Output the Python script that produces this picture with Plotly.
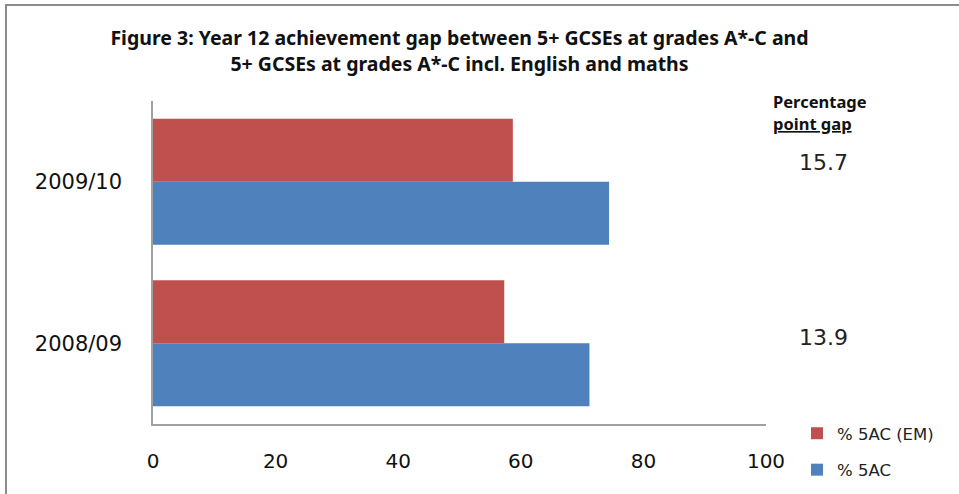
import plotly.graph_objects as go

categories = ["2008/09", "2009/10"]
pct_5ac = [71.2, 74.4]
pct_5ac_em = [57.3, 58.7]
gaps = ["13.9", "15.7"]
gap_shifts = [6, 19]
x_ticks = [0, 20, 40, 60, 80, 100]

BLUE = "#4F81BD"
RED = "#C0504D"
FONT = "DejaVu Sans"

L, R, T, B = 153, 193, 101, 70
W, H = 959, 494
PW, PH = W - L - R, H - T - B


def px_x(x):
    return (x - L) / PW


def px_y(y):
    return (H - B - y) / PH


fig = go.Figure()
fig.add_trace(go.Bar(y=categories, x=pct_5ac, orientation="h", name="% 5AC",
                     legendgroup="blue", legendrank=2,
                     marker=dict(color=BLUE, line=dict(width=0))))
fig.add_trace(go.Bar(y=categories, x=pct_5ac_em, orientation="h", name="% 5AC (EM)",
                     legendgroup="red", legendrank=1,
                     marker=dict(color=RED, line=dict(width=0))))

fig.update_layout(
    width=W, height=H,
    margin=dict(l=L, r=R, t=T, b=B, autoexpand=False),
    paper_bgcolor="white", plot_bgcolor="white",
    barmode="group", bargap=0.22, bargroupgap=0,
    showlegend=True,
    legend=dict(traceorder="grouped", x=px_x(797), xanchor="left",
                y=px_y(416), yanchor="top",
                font=dict(family=FONT, size=16.5, color="#222"),
                itemwidth=30, tracegroupgap=12, bgcolor="rgba(0,0,0,0)"),
    title=dict(
        text="<b>Figure 3: Year 12 achievement gap between 5+ GCSEs at grades A*-C and<br>5+ GCSEs at grades A*-C incl. English and maths</b>",
        x=0.5, xanchor="center", xref="paper", y=0.908, yanchor="top",
        font=dict(family="Noto Sans", size=19.5, color="#111"),
    ),
    xaxis=dict(range=[0, 100], tickvals=x_ticks, showgrid=False, zeroline=False,
               showline=True, linecolor="#A0A0A0", linewidth=1.5,
               ticks="", ticklabelstandoff=18,
               tickfont=dict(family=FONT, size=20, color="#111"), fixedrange=True),
    yaxis=dict(showgrid=False, zeroline=False, showline=True, linecolor="#A0A0A0",
               linewidth=1.5, ticks="", ticklabelstandoff=25,
               tickfont=dict(family=FONT, size=21, color="#111"), fixedrange=True),
)

# Gap annotations
for cat, g, s in zip(categories, gaps, gap_shifts):
    fig.add_annotation(x=px_x(823), xref="paper", y=cat, yref="y", text=g, showarrow=False,
                       xanchor="center", yanchor="middle", yshift=s,
                       font=dict(family=FONT, size=22, color="#222"))

fig.add_annotation(x=px_x(771), xref="paper", y=px_y(101), yref="paper",
                   text="<b>Percentage</b>", showarrow=False, xanchor="left", yanchor="middle",
                   font=dict(family="Noto Sans", size=16.5, color="#111"))
fig.add_annotation(x=px_x(771), xref="paper", y=px_y(123), yref="paper",
                   text="<b><u>point gap</u></b>", showarrow=False, xanchor="left", yanchor="middle",
                   font=dict(family="Noto Sans", size=16.5, color="#111"))

# Outer border (left and top visible)
fig.add_shape(type="rect", xref="paper", yref="paper",
              x0=px_x(6), x1=px_x(990), y0=px_y(530), y1=px_y(5),
              line=dict(color="#8C8C8C", width=2), layer="below")

fig.write_html("out.html")
